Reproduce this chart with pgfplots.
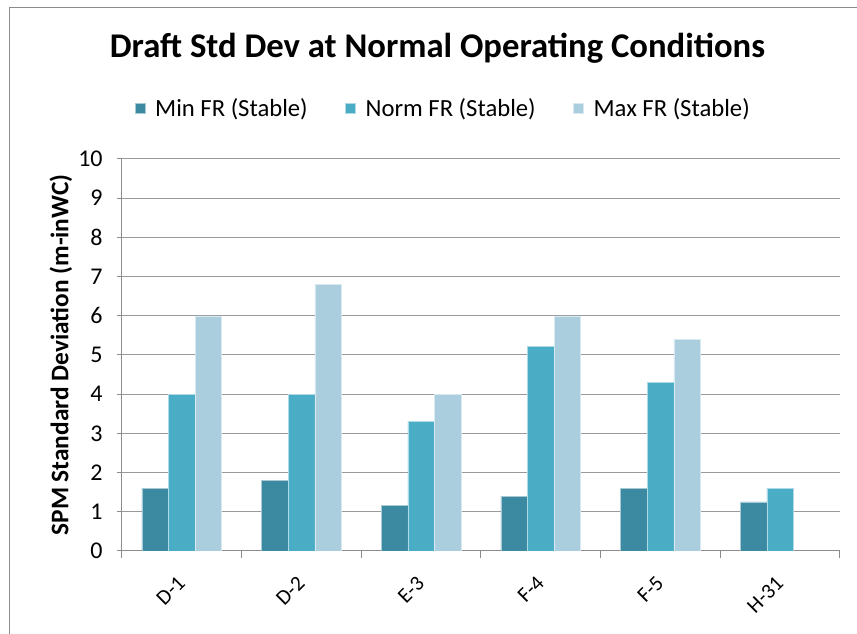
\documentclass[border=0pt]{standalone}
\usepackage{pgfplots}
\pgfplotsset{compat=1.18}
\usepackage{fontspec}
\setmainfont{Carlito}
\definecolor{cmin}{HTML}{3B8AA1}
\definecolor{cnorm}{HTML}{4BACC6}
\definecolor{cmax}{HTML}{AACEDD}
\definecolor{cgrid}{HTML}{9A9A9A}
\definecolor{caxis}{HTML}{8C8C8C}
\begin{document}
\begin{tikzpicture}
\useasboundingbox (-91.5pt,-62.25pt) rectangle (551.25pt,413.25pt);
\draw[color=caxis, line width=0.75pt] (-84pt,-66.75pt) rectangle (557.25pt,407.25pt);
\begin{axis}[
  at={(0pt,0pt)}, anchor=south west,
  scale only axis, width=538.5pt, height=294pt,
  ybar=0pt, bar width=19.95pt,
  xmin=-0.5, xmax=5.5, ymin=0, ymax=10,
  axis lines=left, axis line style={-, color=caxis, line width=0.75pt},
  xtick={0,...,5},
  xticklabels={D-1,D-2,E-3,F-4,F-5,H-31},
  major x tick style={draw=none},
  minor xtick={-0.5,0.5,...,5.5},
  minor x tick style={color=caxis, line width=0.75pt},
  minor tick length=5pt,
  ytick={0,...,10},
  y tick style={color=caxis, line width=0.75pt},
  major tick length=4pt,
  tick align=outside,
  ymajorgrids, grid style={color=cgrid, line width=0.75pt},
  /pgf/number format/assume math mode=true,
  x tick label style={yshift=-9pt, xshift=-4pt, rotate=45, anchor=north east, font=\fontsize{16}{16}\selectfont},
  y tick label style={xshift=-7pt, font=\fontsize{18}{18}\selectfont},
  title={Draft Std Dev at Normal Operating Conditions},
  title style={at={(0.4394,1)}, anchor=center, yshift=77.25pt, font=\bfseries\fontsize{26}{26}\selectfont},
  ylabel={SPM Standard Deviation (m-inWC)},
  ylabel style={at={(axis description cs:-0.085,0.5)}, anchor=center, font=\bfseries\fontsize{19}{19}\selectfont},
  legend columns=3,
  legend style={at={(0.446,1)}, anchor=center, yshift=38.25pt, draw=none, fill=none,
    font=\fontsize{18.5}{18.5}\selectfont,
    nodes={inner sep=0pt},
    /tikz/every odd column/.append style={column sep=7.5pt},
    /tikz/every even column/.append style={column sep=28pt}},
  legend image code/.code={\fill[#1] (0pt,-3.75pt) rectangle (7.5pt,3.75pt);},
]
\addplot[fill=cmin, draw=white!55!cmin, line width=0.4pt] coordinates {(0,1.6) (1,1.8) (2,1.17) (3,1.4) (4,1.6) (5,1.25)};
\addplot[fill=cnorm, draw=white!55!cnorm, line width=0.4pt] coordinates {(0,4.0) (1,4.0) (2,3.3) (3,5.21) (4,4.3) (5,1.6)};
\addplot[fill=cmax, draw=white!55!cmax, line width=0.4pt] coordinates {(0,6.0) (1,6.81) (2,4.0) (3,6.0) (4,5.4)};
\legend{Min FR (Stable), Norm FR (Stable), Max FR (Stable)}
\end{axis}
\end{tikzpicture}
\end{document}
